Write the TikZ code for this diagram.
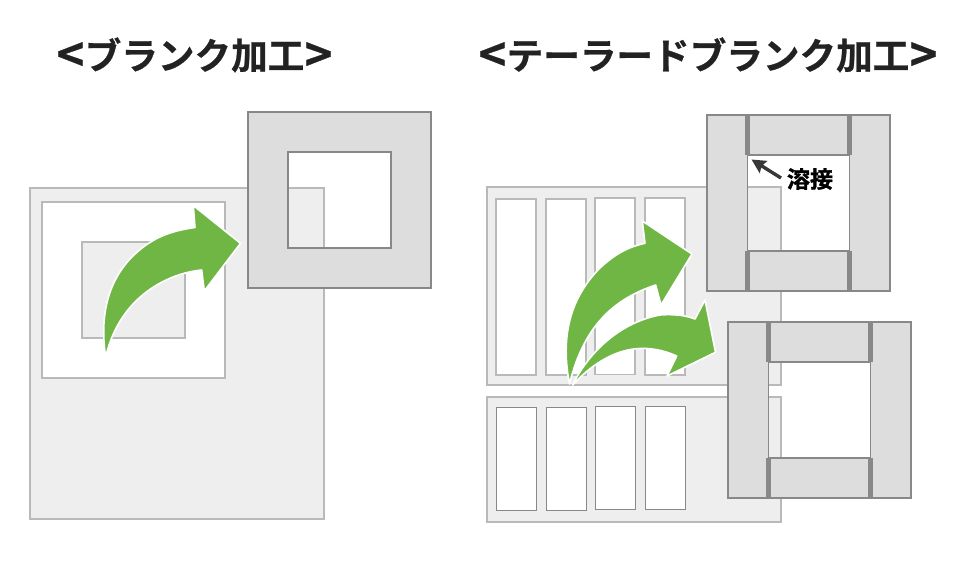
\documentclass[tikz,border=0pt]{standalone}
\usepackage{fontspec}
\setmainfont{Noto Sans CJK JP Bold}
\newfontfamily\heavyfont[FakeBold=0.7]{Noto Sans CJK JP Bold}
\newfontfamily\heavierfont[FakeBold=1.3]{Noto Sans CJK JP Bold}
\usetikzlibrary{arrows.meta}
\definecolor{sheetfill}{HTML}{EEEEEE}
\definecolor{sheetline}{HTML}{B9B9B9}
\definecolor{partfill}{HTML}{DDDDDD}
\definecolor{partline}{HTML}{888888}
\definecolor{arrowgreen}{HTML}{70B645}
\definecolor{inkdark}{HTML}{222222}
\tikzset{
  sheet/.style={fill=sheetfill,draw=sheetline,line width=1.3pt},
  cutout/.style={fill=white,draw=sheetline,line width=1.3pt},
  cutoutthin/.style={fill=white,draw=partline,line width=1pt},
  part/.style={fill=partfill,draw=partline,line width=1.6pt},
  weld/.style={draw=partline,line width=4.4pt},
  bigarrow/.style={fill=arrowgreen,draw=white,line width=1.6pt,line join=round},
  titletext/.style={font=\heavyfont\fontsize{36.6}{36.6}\selectfont,text=inkdark,inner sep=0pt},
  labeltext/.style={font=\heavierfont\fontsize{23}{23}\selectfont,text=black,inner sep=0pt},
  pointer/.style={draw=inkdark!90,line width=3.4pt,-{Stealth[length=14pt,width=14pt,inset=2pt]}}
}
\newcommand{\tailoredframe}[2]{%
  \begin{scope}[shift={(#1,#2)}]
    \path[part,even odd rule] (0,0) rectangle (183,176) (40.5,40) rectangle (142.5,136);
    \draw[part] (41,0) rectangle (142,40);
    \draw[part] (41,136) rectangle (142,176);
    \draw[weld] (40.5,0) -- (40.5,40);
    \draw[weld] (142.5,0) -- (142.5,40);
    \draw[weld] (40.5,136) -- (40.5,176);
    \draw[weld] (142.5,136) -- (142.5,176);
    \draw[partline,line width=1.6pt] (0,0) rectangle (183,176);
    \draw[partline,line width=1.6pt] (40,40) -- (143,40) (40,136) -- (143,136);
    \draw[partline,line width=1.6pt] (40.5,40) -- (40.5,136) (142.5,40) -- (142.5,136);
  \end{scope}}
\newcommand{\bracketl}{\raisebox{-2.5pt}{\fontsize{47}{47}\selectfont<}\hspace{0.5pt}}
\newcommand{\bracketr}{\hspace{0.5pt}\raisebox{-2.5pt}{\fontsize{47}{47}\selectfont>}}
\begin{document}
\begin{tikzpicture}[x=1pt,y=-1pt]
\useasboundingbox (0,0) rectangle (970,565);
% left
\draw[sheet] (30,188) rectangle (324,519);
\draw[cutout] (42,202) rectangle (225,378);
\draw[sheet] (82,242) rectangle (185,338);
\path[part,even odd rule] (248,112) rectangle (431,288) (288,152) rectangle (391,248);
\draw[bigarrow] (105.7,357) .. controls (100,320) and (106,285) .. (130,259)
  .. controls (150,238) and (170,231) .. (195,227.5)
  -- (193.3,205.5) -- (240.5,243.3) -- (204.3,291) -- (201.7,270)
  .. controls (170,273) and (120,295) .. cycle;
% right sheets
\draw[sheet] (487,187) rectangle (781,385);
\draw[cutout] (496,199) rectangle (536,375);
\draw[cutout] (546,199) rectangle (586,375);
\draw[cutout] (595,198) rectangle (635,374.5);
\draw[cutout] (645,198) rectangle (685,375);
\draw[sheet] (487,397) rectangle (781,522);
\draw[cutoutthin] (496,407) rectangle (536.5,510);
\draw[cutoutthin] (546,407) rectangle (586.5,510);
\draw[cutoutthin] (595.5,406.5) rectangle (635.5,509);
\draw[cutoutthin] (645.5,406.5) rectangle (685.5,509);
% frames
\tailoredframe{707}{115}
\tailoredframe{728}{322}
% arrows
\draw[bigarrow] (569.5,384) .. controls (561,340) and (568,300) .. (600,268)
  .. controls (615,254) and (628,247) .. (645,243.3)
  -- (642.3,221) -- (692,254) -- (661,305) -- (655.7,285)
  .. controls (620,297) and (585,320) .. cycle;
\draw[bigarrow] (572.5,385) .. controls (590,350) and (622,322) .. (660,315)
  .. controls (672,314) and (685,315) .. (695,319)
  -- (705,300) -- (715.5,352.3) -- (667,376) -- (676.7,356)
  .. controls (645,342) and (610,345) .. cycle;
% labels
\node[titletext] (t1) at (194.5,55) {\bracketl ブランク加工\bracketr};
\node[titletext] (t2) at (708,55) {\bracketl テーラードブランク加工\bracketr};
\node[labeltext] (w) at (810,179) {溶接};
\coordinate (wtip) at (751.5,159.5);
\draw[pointer] (781,178) -- (wtip);
\end{tikzpicture}
\end{document}
